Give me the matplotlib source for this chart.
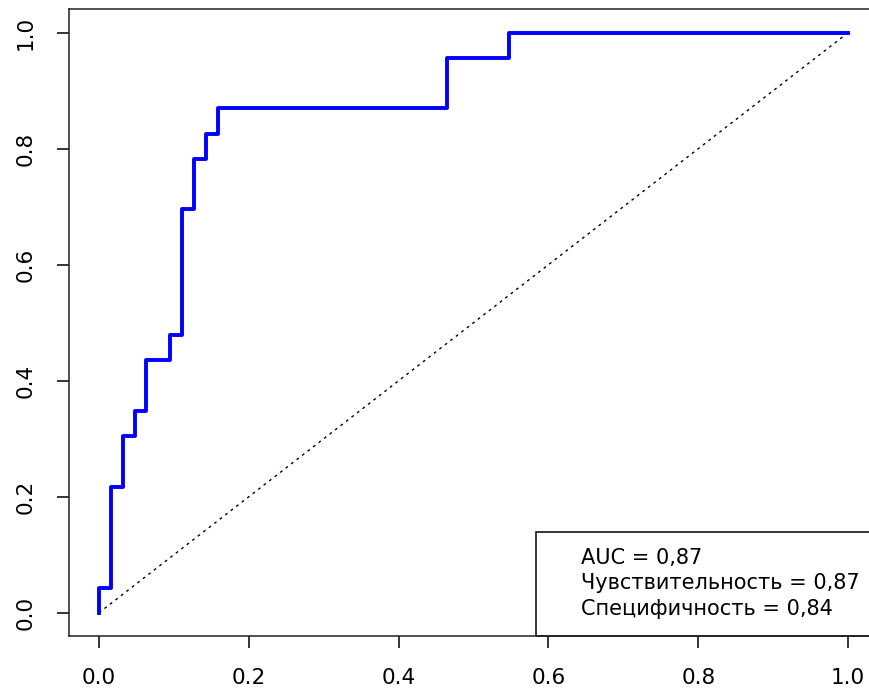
import matplotlib
matplotlib.use("Agg")
import matplotlib.pyplot as plt
from matplotlib.patches import Rectangle

plt.rcParams['font.family'] = ['DejaVu Sans']

# ROC curve corners (false positive rate, true positive rate)
fpr = [0, 0, 0.016, 0.032, 0.048, 0.063, 0.095, 0.111, 0.127, 0.143, 0.159, 0.465, 0.547, 1.0]
tpr = [0, 0.043, 0.217, 0.304, 0.348, 0.435, 0.478, 0.696, 0.783, 0.826, 0.870, 0.957, 1.0, 1.0]
ticks = [0.0, 0.2, 0.4, 0.6, 0.8, 1.0]
legend_lines = ["AUC = 0,87", "Чувствительность = 0,87", "Специфичность = 0,84"]

fig = plt.figure(figsize=(8.69, 6.93), dpi=100)
ax = fig.add_axes([0.0794, 0.0823, 0.931, 0.904])

ax.plot([0, 1], [0, 1], color="black", lw=1, linestyle=(0, (2, 3)))
ax.step(fpr, tpr, where="post", color="#0000ff", lw=2.8)

ax.set_xlim(-0.04, 1.04)
ax.set_ylim(-0.04, 1.04)
ax.set_xticks(ticks)
ax.set_yticks(ticks)
ax.set_xticklabels(["%.1f" % t for t in ticks], fontsize=15.5)
ax.set_yticklabels(["%.1f" % t for t in ticks], fontsize=15.5, rotation=90, va="center")
ax.tick_params(axis="x", length=8.6, width=1.1, pad=14.5)
ax.tick_params(axis="y", length=8.6, width=1.1, pad=15.5)
for s in ax.spines.values():
    s.set_linewidth(1.1)
    s.set_color("#222222")

# legend box, bottom right
ax.add_patch(Rectangle((0.583, -0.04), 0.457, 0.18, fill=False, edgecolor="black", lw=1.1, clip_on=False))
for i, line in enumerate(legend_lines):
    ax.text(0.643, 0.084 - i * 0.0435, line, fontsize=15, va="baseline", ha="left")

fig.savefig("out.png", dpi=100)
